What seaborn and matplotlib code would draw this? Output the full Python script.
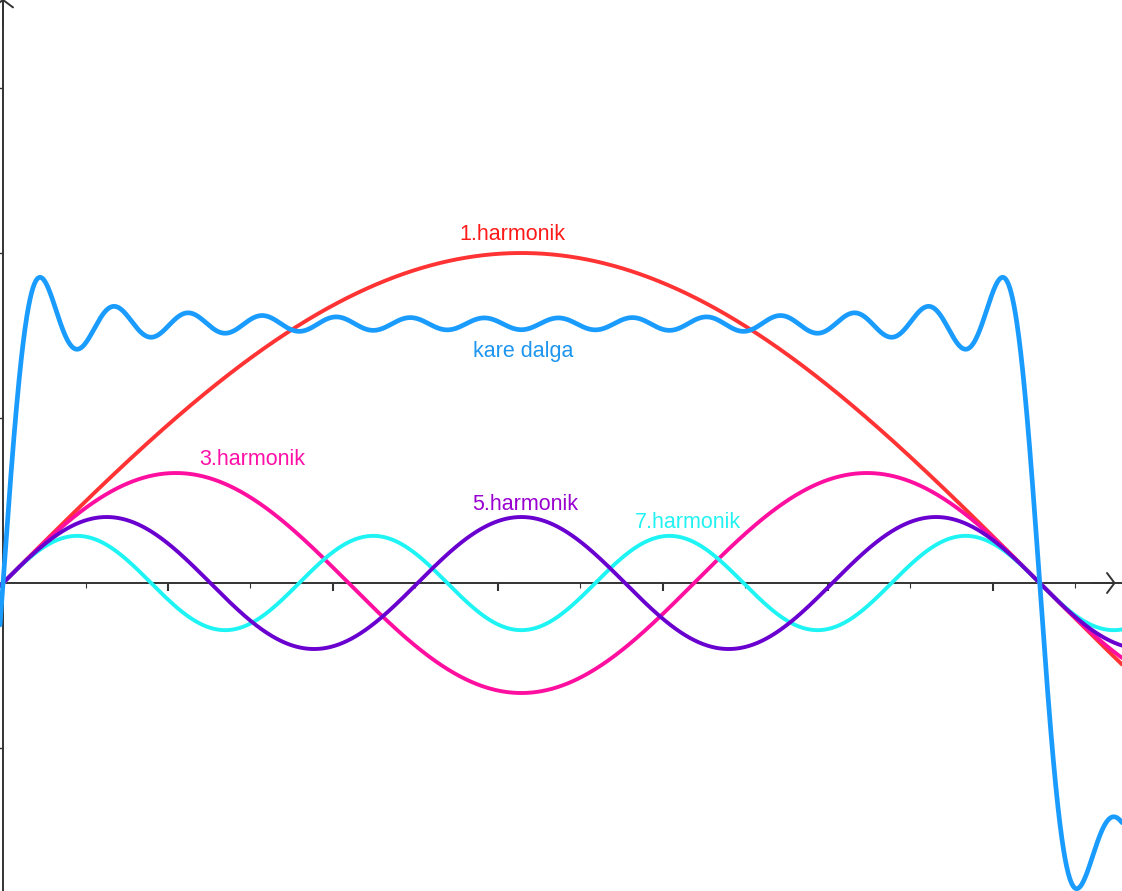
import numpy as np
import pandas as pd
import matplotlib
matplotlib.use("Agg")
import matplotlib.pyplot as plt
import seaborn as sns

# ---- data ----
harmonic_orders = [1, 3, 5, 7]                      # odd harmonics drawn
harmonic_labels = ["1.harmonik", "3.harmonik", "5.harmonik", "7.harmonik"]
harmonic_colors = ["#ff3333", "#ff0fa0", "#6a00d0", "#1ef4f4"]
label_colors = ["#ff1a1a", "#ff10a8", "#9a00d0", "#22f2f2"]
label_x = [1.545, 0.755, 1.582, 2.076]
label_y = [1.039, 0.358, 0.221, 0.167]

square_terms = 14                                    # number of odd terms in the square-wave sum
square_label = "kare dalga"
square_color = "#1a9cff"
square_label_color = "#1e96f0"
square_label_x = 1.576
square_label_y = 0.685

x_major_step = 0.5
x_minor_step = 0.25
y_major_step = 0.5
x_limits = (-0.0091, 3.391)
y_limits = (-0.9333, 1.7667)

# ---- build curves ----
xs = np.linspace(x_limits[0], x_limits[1], 3000)
frames = []
for n, lab in zip(harmonic_orders, harmonic_labels):
    frames.append(pd.DataFrame({"x": xs, "y": np.sin(n * xs) / n, "curve": lab}))
sq = np.zeros_like(xs)
for k in range(1, square_terms + 1):
    m = 2 * k - 1
    sq += np.sin(m * xs) / m
frames.append(pd.DataFrame({"x": xs, "y": sq, "curve": square_label}))
df = pd.concat(frames, ignore_index=True)

sns.set_theme(style="white")
plt.rcParams["font.family"] = ["Liberation Sans", "DejaVu Sans"]

fig = plt.figure(figsize=(11.22, 8.91), dpi=100)
ax = fig.add_axes([0, 0, 1, 1])
ax.set_xlim(*x_limits)
ax.set_ylim(*y_limits)

axis_col = "#333333"
# axes through origin
for side in ["top", "right"]:
    ax.spines[side].set_visible(False)
ax.spines["left"].set_position(("data", 0))
ax.spines["bottom"].set_position(("data", 0))
for side in ["left", "bottom"]:
    ax.spines[side].set_color(axis_col)
    ax.spines[side].set_linewidth(1.4)
    ax.spines[side].set_zorder(1)

ax.set_xticks(np.arange(x_major_step, x_limits[1], x_major_step))
ax.set_xticks(np.arange(x_minor_step, x_limits[1], x_minor_step), minor=True)
yt = np.concatenate([np.arange(-y_major_step, y_limits[0], -y_major_step),
                     np.arange(y_major_step, y_limits[1], y_major_step)])
ax.set_yticks(yt)
ax.set_xticklabels([])
ax.set_yticklabels([])
ax.tick_params(axis="x", which="major", direction="out", length=5.8, width=1.5,
               color=axis_col, bottom=True)
ax.tick_params(axis="x", which="minor", direction="out", length=3.5, width=0.8,
               color=axis_col, bottom=True)
ax.tick_params(axis="y", which="major", direction="out", length=4, width=1.0,
               color=axis_col, left=True)

# arrows at axis ends
ax.annotate("", xy=(3.372, 0), xytext=(3.30, 0),
            arrowprops=dict(arrowstyle="->,head_length=0.45,head_width=0.6",
                            color=axis_col, lw=1.4, shrinkA=0, shrinkB=0),
            annotation_clip=False)
ax.annotate("", xy=(0, y_limits[1] + 0.004), xytext=(0, y_limits[1] - 0.08),
            arrowprops=dict(arrowstyle="->,head_length=0.45,head_width=0.6",
                            color=axis_col, lw=1.4, shrinkA=0, shrinkB=0),
            annotation_clip=False)

# curves (draw order: red, magenta, cyan, purple, blue)
order = [0, 1, 3, 2]
for i in order:
    sub = df[df["curve"] == harmonic_labels[i]]
    sns.lineplot(data=sub, x="x", y="y", ax=ax, color=harmonic_colors[i],
                 linewidth=2.8, sort=False, estimator=None, legend=False, zorder=3 + order.index(i))
sub = df[df["curve"] == square_label]
sns.lineplot(data=sub, x="x", y="y", ax=ax, color=square_color, linewidth=3.4,
             sort=False, estimator=None, legend=False, zorder=10)

# labels
for lx, ly, lab, c in zip(label_x, label_y, harmonic_labels, label_colors):
    ax.text(lx, ly, lab, color=c, fontsize=15.5, ha="center", va="baseline", zorder=12)
ax.text(square_label_x, square_label_y, square_label, color=square_label_color,
        fontsize=15.5, ha="center", va="baseline", zorder=12)

ax.set_xlabel("")
ax.set_ylabel("")
fig.savefig("out.png", dpi=100)
